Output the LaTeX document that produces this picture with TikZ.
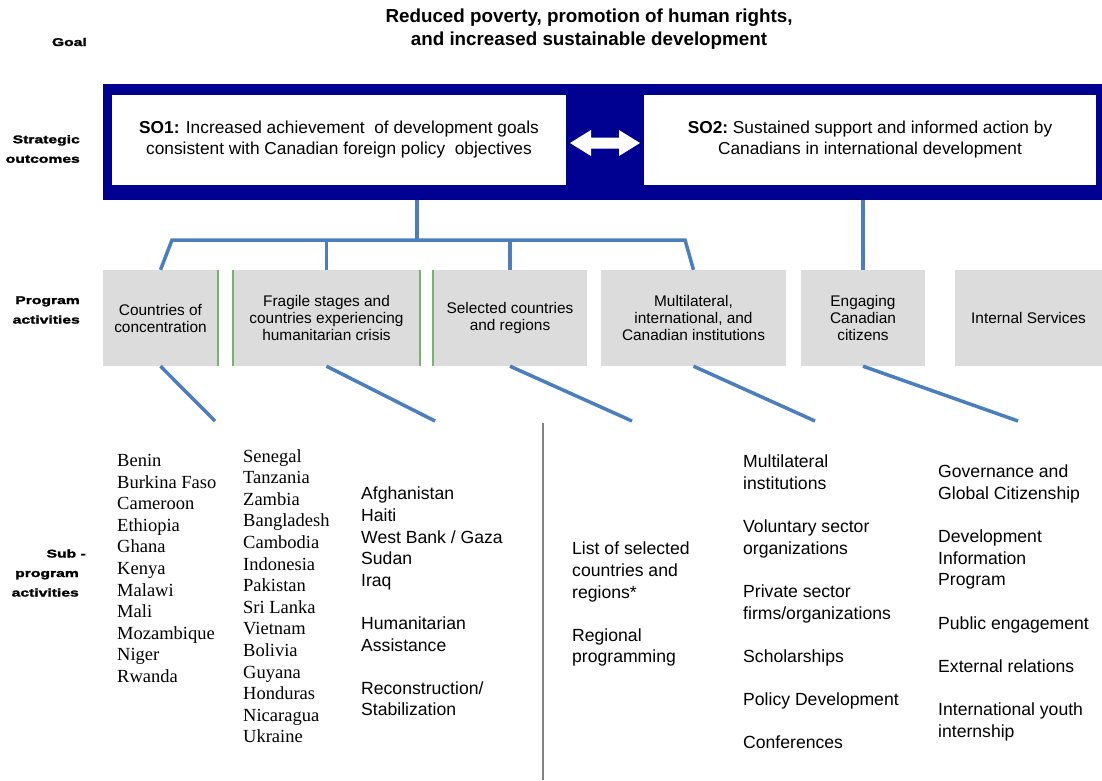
\documentclass[tikz,border=0pt]{standalone}
\usepackage{fontspec}
\setmainfont{Liberation Sans}
\newfontfamily\serifface{Liberation Serif}
\newfontfamily\tagface[FakeStretch=1.4,FakeBold=2]{Liberation Sans Bold}
\usepackage{tikz}
\definecolor{navy}{RGB}{0,0,145}
\definecolor{linkblue}{RGB}{74,126,190}
\definecolor{boxgray}{RGB}{220,220,220}
\definecolor{edgegreen}{RGB}{120,178,110}
\definecolor{rulegray}{RGB}{130,130,130}
\tikzstyle{goaltext}=[align=center,inner sep=0mm,font=\fontsize{18.8}{23}\selectfont\bfseries]
\tikzstyle{outcome}=[rectangle,fill=white,inner sep=0mm,minimum height=90pt,align=center,font=\fontsize{17.3}{21}\selectfont]
\tikzstyle{activity}=[rectangle,fill=boxgray,inner sep=0mm,minimum height=96pt,align=center,font=\fontsize{15.4}{17}\selectfont]
\tikzstyle{tier}=[anchor=east,align=right,inner sep=0mm,font=\tagface\fontsize{11.2}{19.5}\selectfont]
\tikzstyle{sublist}=[anchor=north west,align=left,inner sep=0mm,font=\fontsize{17.6}{21.6}\selectfont]
\tikzstyle{country}=[anchor=north west,align=left,inner sep=0mm,font=\fontsize{18.5}{21.6}\selectfont\serifface]
\tikzstyle{branch}=[linkblue,line width=3.5pt]
\tikzstyle{greenedge}=[edgegreen,line width=1.5pt]

\begin{document}
\begin{tikzpicture}[x=1pt,y=-1pt]
    \useasboundingbox (0,0) rectangle (1102,780);
    % goal
    \node[goaltext] at (589,29) (goal) {Reduced poverty, promotion of human rights,\\and increased sustainable development};
    % strategic outcomes
    \node[rectangle,fill=navy,minimum width=999pt,minimum height=116pt,inner sep=0mm] at (602.5,142) (band) {};
    \node[outcome,minimum width=454pt] at (339,140) (so1) {\textbf{SO1:} Increased achievement\ \ of development\ goals\\consistent\ with Canadian foreign policy\ \ objectives};
    \node[outcome,minimum width=452pt] at (870,140) (so2) {\textbf{SO2:}\ Sustained\ support and informed\ action by\\Canadians\ in international\ development};
    \fill[white] (570,143) -- (591,130) -- (591,137.5) -- (619,137.5) -- (619,130) -- (640,143)
      -- (619,156) -- (619,148.5) -- (591,148.5) -- (591,156) -- cycle;
    % program activities
    \node[activity,minimum width=115pt] at (160.5,318) (conc) {Countries of\\concentration};
    \node[activity,minimum width=187pt] at (326.5,318) (frag) {Fragile stages and\\countries experiencing\\humanitarian crisis};
    \node[activity,minimum width=154pt] at (510,318) (sel) {Selected countries\\and regions};
    \node[activity,minimum width=185pt] at (693.5,318) (multi) {Multilateral,\\international, and\\Canadian institutions};
    \node[activity,minimum width=124pt] at (863,318) (engage) {Engaging\\Canadian\\citizens};
    \node[activity,minimum width=147pt] at (1028.5,318) (internal) {Internal Services};
    \draw[greenedge] (conc.north east) -- (conc.south east);
    \draw[greenedge] (frag.north west) -- (frag.south west);
    \draw[greenedge] (frag.north east) -- (frag.south east);
    \draw[greenedge] (sel.north west) -- (sel.south west);
    % tree from SO1 and SO2
    \coordinate (tap) at (417,200);
    \coordinate (barL) at (172,240);
    \coordinate (barR) at (685,240);
    \draw[branch] (tap) -- (tap |- barL);
    \draw[branch] (conc.north) -- (barL) -- (barR) -- (multi.north);
    \draw[branch] (frag.north) -- (frag.north |- barL);
    \draw[branch] (sel.north) -- (sel.north |- barL);
    \draw[branch] (engage.north |- band.south) -- (engage.north);
    % pointers to the sub-program lists
    \coordinate (concend) at (215,421);
    \coordinate (fragend) at (435,421);
    \coordinate (selend) at (632,421);
    \coordinate (multiend) at (815,421);
    \coordinate (engageend) at (1018,421);
    \draw[branch] (conc.south) -- (concend);
    \draw[branch] (frag.south) -- (fragend);
    \draw[branch] (sel.south) -- (selend);
    \draw[branch] (multi.south) -- (multiend);
    \draw[branch] (engage.south) -- (engageend);
    \draw[rulegray,line width=2pt] (543,423) -- (543,780);
    % sub-program activities
    \node[country] at (117,454) (conclist) {Benin\\Burkina Faso\\Cameroon\\Ethiopia\\Ghana\\Kenya\\Malawi\\Mali\\Mozambique\\Niger\\Rwanda};
    \node[country] at (243,449) (conclist2) {Senegal\\Tanzania\\Zambia\\Bangladesh\\Cambodia\\Indonesia\\Pakistan\\Sri Lanka\\Vietnam\\Bolivia\\Guyana\\Honduras\\Nicaragua\\Ukraine};
    \node[sublist] at (361,487) (fraglist) {Afghanistan\\Haiti\\West\ Bank / Gaza\\Sudan\\Iraq\\[21.6pt]Humanitarian\\Assistance\\[21.6pt]Reconstruction/\\Stabilization};
    \node[sublist] at (572,542) (sellist) {List of\ selected\\countries\ and\\regions*\\[21.6pt]Regional\\programming};
    \node[sublist] at (743,455) (multilist) {Multilateral\\institutions\\[21.6pt]Voluntary sector\\organizations\\[21.6pt]Private sector\\firms/organizations\\[21.6pt]Scholarships\\[21.6pt]Policy Development\\[21.6pt]Conferences};
    \node[sublist] at (938,465) (engagelist) {Governance and\\Global\ Citizenship\\[21.6pt]Development\\Information\\Program\\[21.6pt]Public engagement\\[21.6pt]External\ relations\\[21.6pt]International\ youth\\internship};
    % tier labels
    \node[tier,anchor=base east] at (87,46) (goallabel) {Goal};
    \node[tier] at (80,149) (solabel) {Strategic\\outcomes};
    \node[tier] at (80,310) (palabel) {Program\\activities};
    \node[tier] at (79,573) (spalabel) {Sub -\hspace*{-7pt}\\program\\activities};
\end{tikzpicture}
\end{document}
